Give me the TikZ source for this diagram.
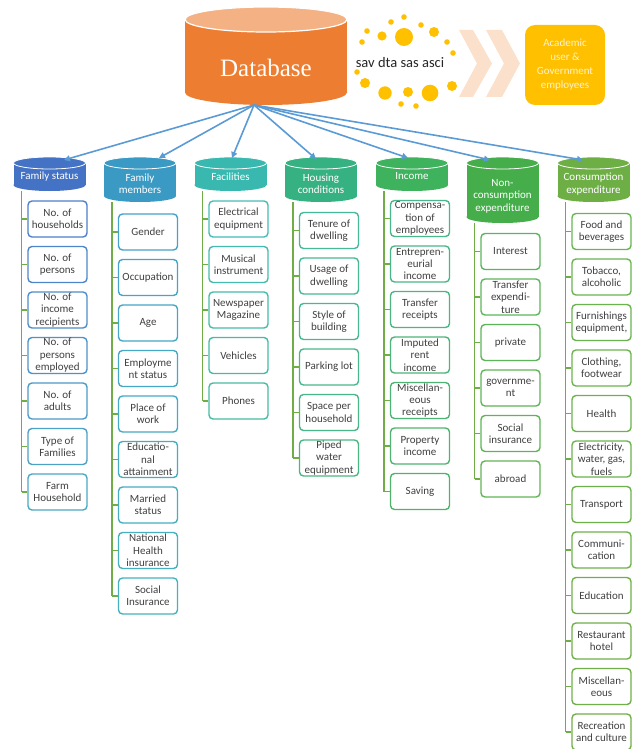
\documentclass[tikz,border=0pt]{standalone}
\usepackage{fontspec}
\setmainfont{Carlito}
\newfontfamily\dbfont{Liberation Serif}
\usetikzlibrary{arrows.meta}
\definecolor{dbbody}{HTML}{ED7D31}
\definecolor{dbtop}{HTML}{F4B183}
\definecolor{gold}{HTML}{FFC000}
\definecolor{chev}{HTML}{FBE1CB}
\definecolor{acadtxt}{HTML}{FFF2CC}
\definecolor{arrc}{HTML}{5B9BD5}
\definecolor{vlc}{HTML}{70AD47}
\definecolor{txtc}{HTML}{404040}
\definecolor{dottxt}{HTML}{262626}
\definecolor{hA}{HTML}{4472C4}
\definecolor{hB}{HTML}{3A9AC4}
\definecolor{hC}{HTML}{38B8AE}
\definecolor{hD}{HTML}{36B282}
\definecolor{hE}{HTML}{3EB25C}
\definecolor{hF}{HTML}{45AD4A}
\definecolor{hG}{HTML}{6DAF45}
\definecolor{b1s}{HTML}{4F7FCB}\definecolor{b1e}{HTML}{4BA8C4}
\definecolor{b2s}{HTML}{45A2C8}\definecolor{b2e}{HTML}{46B2BE}
\definecolor{b3s}{HTML}{45BCB5}\definecolor{b3e}{HTML}{47BAA2}
\definecolor{b4s}{HTML}{46B99A}\definecolor{b4e}{HTML}{4AB782}
\definecolor{b5s}{HTML}{48B78A}\definecolor{b5e}{HTML}{50B468}
\definecolor{b6s}{HTML}{5AB65C}\definecolor{b6e}{HTML}{62B455}
\definecolor{b7s}{HTML}{68B552}\definecolor{b7e}{HTML}{72AE48}
\tikzset{
  box/.style={draw, fill=white, rounded corners=4pt, line width=1.4pt,
    minimum width=59pt, minimum height=36pt, inner sep=0pt, align=center,
    text=txtc, font=\fontsize{11}{12.4}\selectfont},
  htext/.style={align=center, text=white, inner sep=0pt,
    font=\fontsize{11}{12.4}\selectfont},
  vl/.style={draw=vlc, line width=1.4pt},
  arr/.style={draw=arrc, line width=1.6pt, -{Triangle[length=6pt,width=6pt]}},
  acadbox/.style={fill=gold, rounded corners=10pt, minimum width=80pt,
    minimum height=80pt, inner sep=0pt, align=center, text=acadtxt,
    font=\fontsize{11}{14}\selectfont},
  dotlabel/.style={text=dottxt, inner sep=0pt, font=\fontsize{14.5}{16}\selectfont}
}
% column of boxes: idx, box centre x, header bottom, first y, count, start colour, end colour, list
\newcommand\mkcol[8]{%
  \coordinate (c#1l) at ({#2-36},#3);
  \foreach \txt [count=\i] in {#8} {
    \pgfmathtruncatemacro\pp{100*(\i-1)/(#5-1)}
    \colorlet{bc}{#7!\pp!#6}
    \node[box, draw=bc] (c#1b\i) at (#2,{#4+45.5*(\i-1)}) {\txt};
    \draw[vl] (c#1b\i.west) -- (c#1b\i.west -| c#1l);
  }
  \draw[vl] (c#1l) -- (c#1l |- c#1b#5.west);
}
% header cylinder: idx, cx, bottom, colour, text y, text
\newcommand\mkhead[6]{%
  \fill[#4] ({#2-36},163) rectangle ({#2+36},{#3-6});
  \fill[#4] (#2,{#3-6}) ellipse [x radius=36, y radius=6];
  \filldraw[fill=#4, draw=white, line width=0.8pt] (#2,163) ellipse [x radius=36, y radius=6];
  \node[htext] (h#1) at (#2,#5) {#6};
}
\begin{document}
\begin{tikzpicture}[x=1pt,y=-1pt]
\useasboundingbox (0,0) rectangle (637,749);
% database
\fill[dbbody] (185,19.5) rectangle (347,92.5);
\fill[dbbody] (266,92.5) ellipse [x radius=81, y radius=12.5];
\filldraw[fill=dbtop, draw=white, line width=1.2pt] (266,19.5) ellipse [x radius=81, y radius=12.5];
\node[text=white, inner sep=0pt, font=\dbfont\fontsize{25}{28}\selectfont] (db) at (266,68) {Database};
\coordinate (dbfoot) at (254,105);
% dots
\foreach \x/\y/\r in {404/17/2.8, 391/22/2.8, 421/25/2.8, 367/31/2.8, 382/36/4.6,
  404/37/9, 434/32/5, 362/42/2.8, 447/42/2.8, 453/53/2.8, 357/72/2.8, 365/83/5,
  385/93/6.7, 408/92/5, 430/93/8.3, 452/86/5, 401/104/2.8, 416/106/2.8}
  \fill[gold] (\x,\y) circle [radius=\r];
\node[dotlabel] (fmt) at (400,63) {sav dta sas asci};
% chevrons
\fill[chev] (459,30) -- (473,30) -- (492,63.5) -- (473,97) -- (459,97) -- (477,63.5) -- cycle;
\fill[chev] (486,30) -- (502,30) -- (520,63.5) -- (502,97) -- (486,97) -- (504,63.5) -- cycle;
% users
\node[acadbox] (acad) at (565,65) {Academic\\user \&\\Government\\employees};
% headers
\mkhead{1}{49.5}{191}{hA}{176.5}{Family status}
\mkhead{2}{140}{202}{hB}{184}{Family\\members}
\mkhead{3}{230.5}{191}{hC}{176.5}{Facilities}
\mkhead{4}{321}{202}{hD}{184}{Housing\\conditions}
\mkhead{5}{412}{191}{hE}{176.5}{Income}
\mkhead{6}{502.5}{223}{hF}{196}{Non-\\consumption\\expenditure}
\mkhead{7}{593.5}{202}{hG}{184}{Consumption\\expenditure}
\coordinate (h1t) at (64,160);
\coordinate (h2t) at (159,158);
\coordinate (h3t) at (232,158);
\coordinate (h4t) at (316,159);
\coordinate (h5t) at (408,158);
\coordinate (h6t) at (490,160);
\coordinate (h7t) at (583,160);
\foreach \k in {1,...,7} \draw[arr] (dbfoot) -- (h\k t);
% columns
\mkcol{1}{57.5}{191}{219}{7}{b1s}{b1e}{{No. of\\households},{No. of\\persons},{No. of\\income\\recipients},{No. of\\persons\\employed},{No. of\\adults},{Type of\\Families},{Farm\\Household}}
\mkcol{2}{148}{202}{232}{9}{b2s}{b2e}{{Gender},{Occupation},{Age},{Employme\\nt status},{Place of\\work},{Educatio-\\nal\\attainment},{Married\\status},{National\\Health\\insurance},{Social\\Insurance}}
\mkcol{3}{238.5}{191}{219}{5}{b3s}{b3e}{{Electrical\\equipment},{Musical\\instrument},{Newspaper\\Magazine},{Vehicles},{Phones}}
\mkcol{4}{329}{202}{230.5}{6}{b4s}{b4e}{{Tenure of\\dwelling},{Usage of\\dwelling},{Style of\\building},{Parking lot},{Space per\\household},{Piped\\water\\equipment}}
\mkcol{5}{420}{191}{218.5}{7}{b5s}{b5e}{{Compensa-\\tion of\\employees},{Entrepren-\\eurial\\income},{Transfer\\receipts},{Imputed\\rent\\income},{Miscellan-\\eous\\receipts},{Property\\income},{Saving}}
\mkcol{6}{510.5}{223}{251.5}{6}{b6s}{b6e}{{Interest},{Transfer\\expendi-\\ture},{private},{governme-\\nt},{Social\\insurance},{abroad}}
\mkcol{7}{601.5}{202}{231.5}{12}{b7s}{b7e}{{Food and\\beverages},{Tobacco,\\alcoholic},{Furnishings\\equipment,},{Clothing,\\footwear},{Health},{Electricity,\\water, gas,\\fuels},{Transport},{Communi-\\cation},{Education},{Restaurant\\hotel},{Miscellan-\\eous},{Recreation\\and culture}}
\end{tikzpicture}
\end{document}
